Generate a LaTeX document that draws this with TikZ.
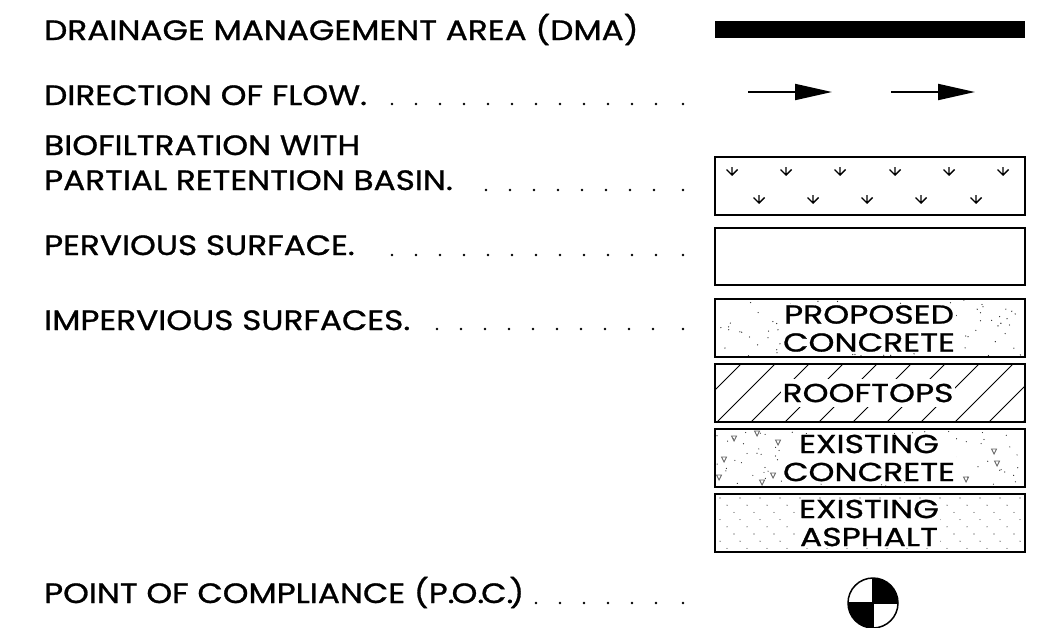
\documentclass[tikz,border=0pt]{standalone}
\usepackage{fontspec}
\setmainfont{Poppins}[FakeBold=1,FakeStretch=1.17]
\newfontfamily\boxfont{Poppins}[FakeBold=1,FakeStretch=1.27]
\usetikzlibrary{arrows.meta}
\tikzset{
  legendtext/.style={anchor=base west, inner sep=0pt, font=\fontsize{28}{28}\selectfont},
  boxlabel/.style={fill=white, align=center, inner sep=1pt, font=\boxfont\fontsize{26}{28}\selectfont},
  legendbox/.style={draw=black, line width=2pt},
  flowarrow/.style={line width=2pt, -{Triangle[length=37pt,width=16pt]}},
  leaderdot/.style={fill=black, draw=none},
  speck/.style={fill=black!85, draw=none},
  pebble/.style={draw=black!60, line width=0.9pt},
  hatchline/.style={black, line width=0.9pt},
  rainmark/.style={black, line width=1.4pt}
}
\begin{document}
\begin{tikzpicture}[x=1pt,y=-1pt]
   \useasboundingbox (0,0) rectangle (1052,627);
   % left column
   \node[legendtext] (dmalabel)  at (44, 40) {DRAINAGE MANAGEMENT AREA (DMA)};
   \node[legendtext] (flowlabel) at (44,105) {DIRECTION OF FLOW.};
   \node[legendtext] (biolabel)  at (44,155) {BIOFILTRATION WITH};
   \node[legendtext] (basinlabel) at (44,190) {PARTIAL RETENTION BASIN.};
   \node[legendtext] (perviouslabel) at (44,255) {PERVIOUS SURFACE.};
   \node[legendtext] (imperviouslabel) at (44,330) {IMPERVIOUS SURFACES.};
   \node[legendtext] (poclabel)  at (44,603) {POINT OF COMPLIANCE (P.\kern-3pt O.\kern-3pt C.\kern-4pt)};
   % leader dots
   \foreach \y/\x/\n in {104/392/11, 190/486/7, 255/392/11, 329/437/9, 603/536/5} {
     \foreach \k in {0,...,\n} \fill[leaderdot] ({\x+24*\k},\y) circle (1.3);
     \fill[leaderdot] (683,\y) circle (1.3);
   }
   % DMA bar and flow arrows
   \fill[black] (715,21) rectangle (1025,38);
   \coordinate (flowa) at (748,92);
   \coordinate (flowb) at (832,92);
   \coordinate (flowc) at (891,92);
   \coordinate (flowd) at (975,92);
   \draw[flowarrow] (flowa) -- (flowb);
   \draw[flowarrow] (flowc) -- (flowd);
   % biofiltration
   \draw[legendbox] (715,157) rectangle (1025,215);
   \foreach \x in {732,786,840,895,949,1003}
     \draw[rainmark] (\x,167) -- (\x,175) (\x-5.5,169.5) -- (\x,175) -- (\x+5.5,169.5);
   \foreach \x in {759,813,867,921,976}
     \draw[rainmark] (\x,195) -- (\x,203) (\x-5.5,197.5) -- (\x,203) -- (\x+5.5,197.5);
   % pervious
   \draw[legendbox] (715,228) rectangle (1025,285);
   % proposed concrete
   \pgfmathsetseed{4217}
   \foreach \i in {1,...,110}
     \fill[speck] ({716+308*rnd},{300+56*rnd}) circle (0.65);
   \draw[legendbox] (715,299) rectangle (1025,357);
   \node[boxlabel] (proposedlabel) at (869,328.5) {PROPOSED\\CONCRETE};
   % rooftops
   \begin{scope}
    \clip (715,364) rectangle (1025,422);
    \foreach \x in {683,717,...,1023}
      \draw[hatchline] (\x,422) -- (\x+58,364);
   \end{scope}
   \draw[legendbox] (715,364) rectangle (1025,422);
   \node[boxlabel, inner xsep=2pt, inner ysep=5pt] (rooftopslabel) at (868,393) {ROOFTOPS};
   % existing concrete
   \pgfmathsetseed{893}
   \foreach \i in {1,...,110}
     \fill[speck] ({716+308*rnd},{430+56*rnd}) circle (0.6);
   \foreach \x/\y in {734/438, 757/433, 778/442, 724/459, 719/477, 762/482,
                      773/475, 793/457, 953/459, 994/451, 997/463, 966/479}
     \draw[pebble] (\x-2.5,\y-2) -- (\x+2.5,\y-2) -- (\x,\y+3) -- cycle;
   \draw[legendbox] (715,429) rectangle (1025,487);
   \node[boxlabel] (existinglabel) at (869,458) {EXISTING\\CONCRETE};
   % existing asphalt
   \begin{scope}
    \clip (715,494) rectangle (1025,552);
    \foreach \r in {0,...,7}
     \foreach \c in {0,...,15}
       \fill[speck] ({720+\c*20+mod(\r,3)*7},{498+\r*7.2}) circle (0.55);
   \end{scope}
   \draw[legendbox] (715,494) rectangle (1025,552);
   \node[boxlabel] (asphaltlabel) at (869,523) {EXISTING\\ASPHALT};
   % point of compliance
   \fill[black] (873,603) -- (848,603) arc (180:90:25) -- cycle;
   \fill[black] (873,603) -- (898,603) arc (0:-90:25) -- cycle;
   \draw[black, line width=1.5pt] (873,603) circle (25);
   \draw[black, line width=1.5pt] (848,603) -- (898,603) (873,578) -- (873,628);
\end{tikzpicture}
\end{document}
